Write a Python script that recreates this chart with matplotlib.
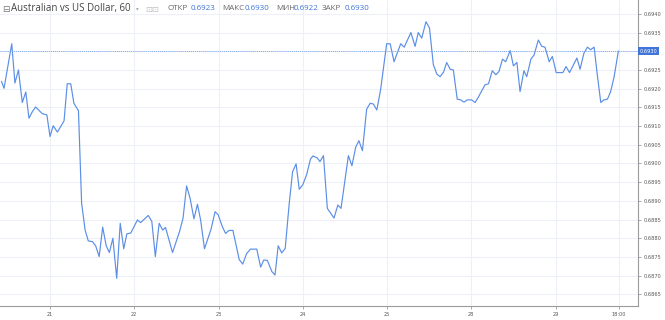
import matplotlib
matplotlib.use("Agg")
import matplotlib.pyplot as plt

# hourly closes, AUD/USD 60 min; time in trading hours from day 21 00:00 (weekend skipped)
hours = [-13.8, -13.1, -10.9, -10.0, -9.0, -7.9, -6.9, -6.0, -5.0, -4.1, -2.2, -0.9,
         0.0, 0.9, 2.1, 4.0, 4.9, 5.9, 6.8, 8.1, 9.0, 10.0, 10.9, 12.1, 13.0, 14.0,
         15.0, 16.0, 16.9, 17.9, 19.0, 20.0, 21.0, 21.9, 23.0, 24.9, 25.8, 28.0, 29.0,
         30.0, 31.1, 32.1, 32.9, 34.9, 36.9, 37.9, 38.9, 39.9, 41.0, 42.0, 42.9, 44.0,
         45.9, 47.0, 47.9, 49.1, 50.0, 51.0, 52.1, 53.9, 54.9, 56.0, 57.1, 58.9, 60.0,
         60.9, 61.9, 63.2, 64.1, 65.0, 66.0, 67.0, 68.1, 69.1, 70.1, 71.0, 72.0, 73.1,
         74.2, 74.9, 76.1, 76.9, 77.9, 79.0, 80.9, 82.0, 82.9, 85.0, 86.0, 87.1, 88.0,
         89.0, 90.2, 91.2, 92.1, 93.1, 94.2, 95.9, 96.9, 98.0, 99.9, 100.9, 102.8, 104.0,
         104.9, 105.9, 107.1, 108.1, 109.2, 110.2, 111.1, 112.1, 113.0, 114.0, 114.9,
         116.0, 117.0, 117.9, 118.9, 120.1, 121.1, 122.0, 123.9, 124.9, 126.0, 127.0,
         127.9, 128.9, 129.8, 131.1, 132.0, 133.0, 133.9, 135.0, 135.8, 137.0, 137.9,
         139.1, 140.1, 141.0, 142.2, 143.1, 144.2, 146.1, 147.0, 148.0, 150.1, 151.0,
         152.1, 153.1, 154.0, 155.0, 155.9, 156.9, 157.8, 158.8, 159.7, 160.7, 161.9]
prices = [0.69219, 0.69201, 0.69320, 0.69215, 0.69250, 0.69163, 0.69191, 0.69121, 0.69139,
          0.69151, 0.69133, 0.69130, 0.69072, 0.69101, 0.69084, 0.69114, 0.69213, 0.69213,
          0.69161, 0.69141, 0.68894, 0.68822, 0.68793, 0.68791, 0.68780, 0.68751, 0.68830,
          0.68780, 0.68762, 0.68800, 0.68693, 0.68840, 0.68772, 0.68812, 0.68814, 0.68849,
          0.68842, 0.68861, 0.68845, 0.68751, 0.68840, 0.68822, 0.68829, 0.68762, 0.68818,
          0.68854, 0.68940, 0.68907, 0.68852, 0.68891, 0.68849, 0.68772, 0.68825, 0.68871,
          0.68863, 0.68831, 0.68813, 0.68821, 0.68821, 0.68743, 0.68731, 0.68759, 0.68771,
          0.68771, 0.68723, 0.68742, 0.68741, 0.68711, 0.68702, 0.68780, 0.68761, 0.68773,
          0.68889, 0.68978, 0.68999, 0.68931, 0.68943, 0.68970, 0.69012, 0.69020, 0.69015,
          0.69005, 0.69021, 0.68880, 0.68854, 0.68889, 0.68880, 0.69021, 0.68994, 0.69044,
          0.69061, 0.69034, 0.69145, 0.69161, 0.69159, 0.69143, 0.69199, 0.69320, 0.69320,
          0.69272, 0.69320, 0.69311, 0.69350, 0.69313, 0.69350, 0.69335, 0.69379, 0.69362,
          0.69264, 0.69239, 0.69232, 0.69244, 0.69270, 0.69252, 0.69250, 0.69172, 0.69170,
          0.69164, 0.69170, 0.69170, 0.69163, 0.69177, 0.69210, 0.69213, 0.69248, 0.69237,
          0.69246, 0.69279, 0.69272, 0.69302, 0.69261, 0.69270, 0.69192, 0.69248, 0.69232,
          0.69279, 0.69290, 0.69330, 0.69313, 0.69311, 0.69272, 0.69286, 0.69243, 0.69243,
          0.69259, 0.69243, 0.69282, 0.69252, 0.69295, 0.69311, 0.69304, 0.69311, 0.69237,
          0.69163, 0.69170, 0.69172, 0.69192, 0.69232, 0.69300]

last_price = 0.6930
x_ticks = [0, 24, 48, 72, 96, 120, 144, 162]
x_labels = ["21", "22", "23", "24", "25", "28", "29", "18:00"]
y_ticks = [0.6865, 0.6870, 0.6875, 0.6880, 0.6885, 0.6890, 0.6895, 0.6900,
           0.6905, 0.6910, 0.6915, 0.6920, 0.6925, 0.6930, 0.6935, 0.6940]

title = "Australian vs US Dollar, 60"
ohlc_names = ["ОТКР", "МАКС", "МИН", "ЗАКР"]
ohlc_values = ["0.6923", "0.6930", "0.6922", "0.6930"]

line_c = "#5b8ee6"
grid_c = "#edf1f7"
axis_c = "#9a9a9a"
text_c = "#555555"

W, H = 665, 320
fig = plt.figure(figsize=(W / 100, H / 100), dpi=100)
ax = fig.add_axes([0, 14 / H, 638 / W, 306 / H])

ax.plot(hours, prices, color=line_c, lw=0.85)
ax.axhline(last_price, color="#7ea6ec", lw=0.7, ls=(0, (1, 1)))

ax.set_xlim(-14.25, 167.5)
ax.set_ylim(0.68619, 0.69437)
ax.set_xticks(x_ticks)
ax.set_xticklabels(x_labels)
ax.set_yticks(y_ticks)
# the last-price box covers the 0.6930 tick label
ax.set_yticklabels(["" if abs(v - last_price) < 1e-6 else f"{v:.4f}" for v in y_ticks])
ax.yaxis.tick_right()
ax.grid(True, color=grid_c, lw=0.8)
ax.set_axisbelow(True)
for s in ["left", "top"]:
    ax.spines[s].set_visible(False)
for s in ["right", "bottom"]:
    ax.spines[s].set_color(axis_c)
    ax.spines[s].set_linewidth(0.8)
ax.tick_params(axis="both", colors=axis_c, labelcolor=text_c, labelsize=3.6,
               length=2.5, width=0.6, pad=1.5)

# last price label on the axis
ax.text(1.003, last_price, f"{last_price:.4f}", transform=ax.get_yaxis_transform(),
        ha="left", va="center", fontsize=3.6, color="white",
        bbox=dict(boxstyle="square,pad=0.35", fc="#3f74d8", ec="none"))

# header
fam = ["Open Sans", "DejaVu Sans"]
ty = 1 - 9 / H
fig.text(2 / W, ty, "⊟", fontsize=6.5, color="#777777", va="center", family=["DejaVu Sans"])
fig.text(11 / W, ty, title, fontsize=7, color="#444444", va="center", family=fam)
fig.text(136 / W, ty, "▾", fontsize=4, color="#aaaaaa", va="center", family=["DejaVu Sans"])
fig.text(145 / W, ty, "⊡⊡", fontsize=6, color="#c0c0c0", va="center", family=["DejaVu Sans"])
name_x = [168, 222, 276, 322]
val_x = [191, 245, 294, 345]
for nx, vx, n, v in zip(name_x, val_x, ohlc_names, ohlc_values):
    fig.text(nx / W, ty, n, fontsize=5.8, color="#666666", va="center", family=fam)
    fig.text(vx / W, ty, v, fontsize=5.8, color="#3f74d8", va="center", family=fam)

fig.savefig("out.png", dpi=100, facecolor="white")
